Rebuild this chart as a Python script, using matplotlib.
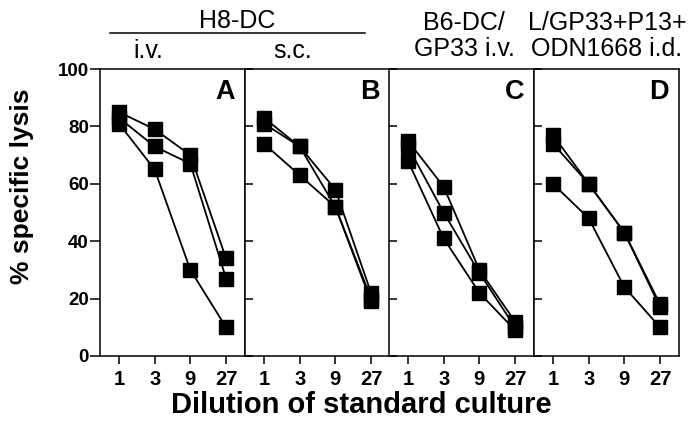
import matplotlib as mpl
import matplotlib.pyplot as plt
import numpy as np

mpl.rcParams['font.family'] = ['Liberation Sans', 'DejaVu Sans']

# dilution steps on the x axis
dilutions = ["1", "3", "9", "27"]

# % specific lysis, three mice per panel
panel_a = [[85, 79, 70, 34], [83, 73, 67, 27], [81, 65, 30, 10]]
panel_b = [[83, 73, 58, 22], [81, 73, 52, 20], [74, 63, 52, 19]]
panel_c = [[75, 59, 30, 12], [73, 50, 29, 10], [68, 41, 22, 9]]
panel_d = [[77, 60, 43, 18], [74, 60, 43, 17], [60, 48, 24, 10]]

panels = [panel_a, panel_b, panel_c, panel_d]
letters = ["A", "B", "C", "D"]

W, H = 691, 425
fig = plt.figure(figsize=(W / 100, H / 100), dpi=100)

# panel geometry in pixels
lefts = [100, 245, 389, 534]
pw = 145
top, bottom = 69, 356

xpos = np.arange(len(dilutions))
for i, (data, letter) in enumerate(zip(panels, letters)):
    ax = fig.add_axes([lefts[i] / W, 1 - bottom / H, pw / W, (bottom - top) / H])
    for series in data:
        ax.plot(xpos, series, color="black", linewidth=1.3, marker="s",
                markersize=9.5, markerfacecolor="black", markeredgecolor="black")
    ax.set_xlim(-0.53, 3.53)
    ax.set_ylim(0, 100)
    ax.set_xticks(xpos)
    ax.set_xticklabels(dilutions, fontsize=14.5, fontweight="bold")
    ax.set_yticks([0, 20, 40, 60, 80, 100])
    for sp in ax.spines.values():
        sp.set_linewidth(1.1)
    ax.tick_params(axis="x", direction="out", length=5.5, width=1.1, pad=4.5)
    if i == 0:
        ax.set_yticklabels(["0", "20", "40", "60", "80", "100"], fontsize=13.5, fontweight="bold")
        ax.tick_params(axis="y", direction="out", length=7, width=1.1, pad=1)
    else:
        ax.tick_params(axis="y", direction="in", length=6, width=1.1, labelleft=False)
    ax.text(0.931, 0.965, letter, transform=ax.transAxes, ha="right", va="top",
            fontsize=19.5, fontweight="bold")

# axis labels
fig.text(22 / W, 1 - 186 / H, "% specific lysis", rotation=90, ha="center", va="center",
         fontsize=19, fontweight="bold")
fig.text(361 / W, 1 - 405 / H, "Dilution of standard culture", ha="center", va="center",
         fontsize=21, fontweight="bold")

# group headers
fig.text(237 / W, 1 - 21 / H, "H8-DC", ha="center", va="center", fontsize=18)
fig.add_artist(plt.Line2D([110 / W, 365 / W], [1 - 33 / H, 1 - 33 / H], color="black", linewidth=1.1))
fig.text(148 / W, 1 - 51 / H, "i.v.", ha="center", va="center", fontsize=18)
fig.text(293 / W, 1 - 51 / H, "s.c.", ha="center", va="center", fontsize=18)
fig.text(464 / W, 1 - 36 / H, "B6-DC/\nGP33 i.v.", ha="center", va="center", fontsize=18,
         linespacing=1.1)
fig.text(607 / W, 1 - 36 / H, "L/GP33+P13+\nODN1668 i.d.", ha="center", va="center", fontsize=18,
         linespacing=1.1)

plt.savefig("out.png", dpi=100)
plt.close("all")
